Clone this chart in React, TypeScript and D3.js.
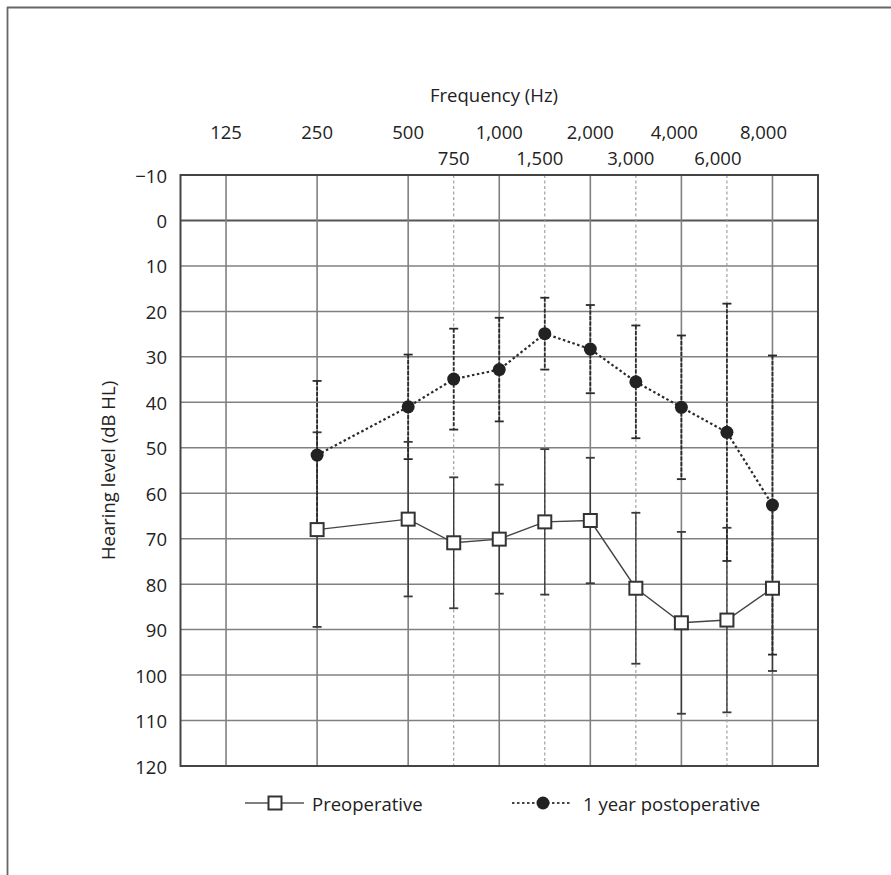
import React from 'react';
import * as d3 from 'd3';

// audiogram frequencies (Hz)
const octaveFreqs = [125, 250, 500, 1000, 2000, 4000, 8000];
const midFreqs = [750, 1500, 3000, 6000];
const freqs = [250, 500, 750, 1000, 1500, 2000, 3000, 4000, 6000, 8000];

// mean hearing level and SD (dB HL)
const preMean = [68, 65.7, 70.9, 70.1, 66.3, 66.0, 80.9, 88.5, 87.9, 80.9];
const preSD = [21.4, 17, 14.4, 12, 16, 13.8, 16.6, 20, 20.3, 18.2];
const postMean = [51.6, 41, 34.9, 32.8, 24.9, 28.3, 35.5, 41.1, 46.6, 62.6];
const postSD = [16.3, 11.5, 11.1, 11.4, 7.9, 9.7, 12.4, 15.8, 28.3, 32.9];

const yTicks = [-10, 0, 10, 20, 30, 40, 50, 60, 70, 80, 90, 100, 110, 120];

const W = 891;
const H = 875;
const FONT = '"Open Sans", "Noto Sans", sans-serif';
const FS = 18.5;
const TEXT = '#222';
const GRID = '#808080';

// audiogram spacing: octaves evenly, inter-octave freqs at the half step
const octavePos = (f: number) => Math.round(2 * Math.log2(f / 125)) / 2;
// the original nudges the right-hand labels a little to the left
const labelNudge: Record<number, number> = { 1500: -5, 3000: -5, 4000: -7, 6000: -9, 8000: -9 };

const fmt = d3.format(',');
const fmtY = (v: number) => (v < 0 ? '\u2212' + Math.abs(v) : String(v));

export default function App() {
  const x = d3.scaleLinear().domain([-0.5, 6.5]).range([180.5, 818]);
  const y = d3.scaleLinear().domain([-10, 120]).range([175, 766]);
  const fx = (f: number) => x(octavePos(f));

  const lineGen = d3
    .line<number>()
    .x((_, i) => fx(freqs[i]))
    .y((d) => y(d));

  const cap = 4.5;
  const sq = 13;

  const errBars = (mean: number[], sd: number[], dashed: boolean, key: string) =>
    mean.map((m, i) => {
      const cx = fx(freqs[i]);
      const top = y(m - sd[i]);
      const bot = y(m + sd[i]);
      const stroke = dashed ? '#2a2a2a' : '#3a3a3a';
      const sw = dashed ? 1.8 : 1.4;
      return (
        <g key={key + i}>
          <line x1={cx} x2={cx} y1={top} y2={bot} stroke={stroke} strokeWidth={sw} strokeDasharray={dashed ? '4,1.5' : undefined} />
          <line x1={cx - cap} x2={cx + cap} y1={top} y2={top} stroke={stroke} strokeWidth={1.8} />
          <line x1={cx - cap} x2={cx + cap} y1={bot} y2={bot} stroke={stroke} strokeWidth={1.8} />
        </g>
      );
    });

  const label = (props: any, content: string) => (
    <text fontFamily={FONT} fontSize={FS} fill={TEXT} {...props}>
      {content}
    </text>
  );

  return (
    <svg width={W} height={H} style={{ position: 'absolute', left: 0, top: 0, background: '#fff' }}>
      {/* outer frame (only top and left edges visible) */}
      <line x1={7} x2={W} y1={7.5} y2={7.5} stroke="#666" strokeWidth={1.8} />
      <line x1={7.5} x2={7.5} y1={7} y2={H} stroke="#666" strokeWidth={1.8} />

      {label({ x: 494, y: 94, textAnchor: 'middle', dominantBaseline: 'central' }, 'Frequency (Hz)')}

      {octaveFreqs.map((f) => (
        <g key={'ol' + f}>
          {label({ x: fx(f) + (labelNudge[f] || 0), y: 131, textAnchor: 'middle', dominantBaseline: 'central' }, fmt(f))}
        </g>
      ))}
      {midFreqs.map((f) => (
        <g key={'ml' + f}>
          {label({ x: fx(f) + (labelNudge[f] || 0), y: 157, textAnchor: 'middle', dominantBaseline: 'central' }, fmt(f))}
        </g>
      ))}

      {/* grid */}
      {yTicks.map((t) => (
        <g key={'yt' + t}>
          <line x1={x(-0.5)} x2={x(6.5)} y1={y(t)} y2={y(t)} stroke={t === 0 ? '#555' : GRID} strokeWidth={t === 0 ? 2 : 1.5} />
          {label({ x: 167, y: y(t), textAnchor: 'end', dominantBaseline: 'central' }, fmtY(t))}
        </g>
      ))}
      {octaveFreqs.map((f) => (
        <line key={'og' + f} x1={fx(f)} x2={fx(f)} y1={y(-10)} y2={y(120)} stroke={GRID} strokeWidth={1.6} />
      ))}
      {midFreqs.map((f) => (
        <line key={'mg' + f} x1={fx(f)} x2={fx(f)} y1={y(-10)} y2={y(120)} stroke="#999" strokeWidth={1.1} strokeDasharray="3,2.5" />
      ))}
      <rect x={x(-0.5)} y={y(-10)} width={x(6.5) - x(-0.5)} height={y(120) - y(-10)} fill="none" stroke="#444" strokeWidth={2} />

      {label(
        { transform: `translate(115,${(y(-10) + y(120)) / 2}) rotate(-90)`, textAnchor: 'middle' },
        'Hearing level (dB HL)'
      )}

      {errBars(preMean, preSD, false, 'pe')}
      {errBars(postMean, postSD, true, 'po')}

      <path d={lineGen(preMean) || ''} fill="none" stroke="#444" strokeWidth={1.4} />
      <path d={lineGen(postMean) || ''} fill="none" stroke="#2a2a2a" strokeWidth={2.2} strokeDasharray="2.5,2.5" />

      {preMean.map((m, i) => (
        <rect key={'sq' + i} x={fx(freqs[i]) - sq / 2} y={y(m) - sq / 2} width={sq} height={sq} fill="#fff" stroke="#333" strokeWidth={2} />
      ))}
      {postMean.map((m, i) => (
        <circle key={'c' + i} cx={fx(freqs[i])} cy={y(m)} r={6.5} fill="#222" />
      ))}

      {/* legend */}
      <line x1={245} x2={304} y1={803} y2={803} stroke="#555" strokeWidth={1.5} />
      <rect x={275 - sq / 2} y={803 - sq / 2} width={sq} height={sq} fill="#fff" stroke="#333" strokeWidth={2} />
      {label({ x: 312, y: 803, dominantBaseline: 'central' }, 'Preoperative')}
      <line x1={512} x2={572} y1={803} y2={803} stroke="#444" strokeWidth={2} strokeDasharray="2.5,2.5" />
      <circle cx={543} cy={803} r={6.5} fill="#222" />
      {label({ x: 583, y: 803, dominantBaseline: 'central' }, '1 year postoperative')}
    </svg>
  );
}
